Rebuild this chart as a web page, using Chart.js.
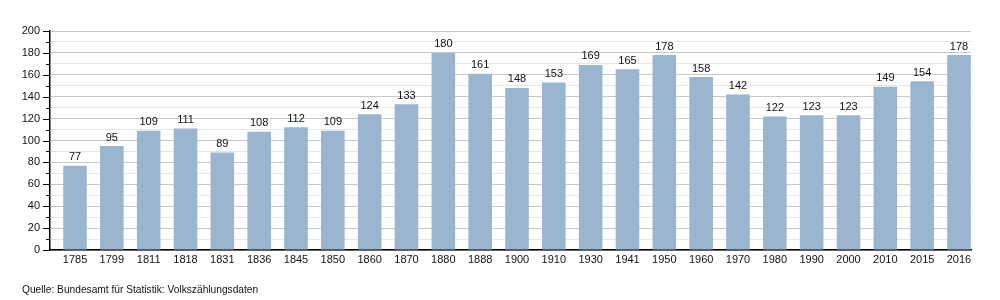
<!DOCTYPE html>
<html>
<head>
<meta charset="utf-8">
<script src="https://cdn.jsdelivr.net/npm/chart.js@4/dist/chart.umd.min.js"></script>
<style>
html,body{margin:0;padding:0;background:#fff;}
#wrap{width:1000px;height:300px;position:relative;}
</style>
</head>
<body>
<div id="wrap"><canvas id="c"></canvas></div>
<script>
const years = ['1785','1799','1811','1818','1831','1836','1845','1850','1860','1870','1880','1888','1900','1910','1930','1941','1950','1960','1970','1980','1990','2000','2010','2015','2016'];
const population = [77,95,109,111,89,108,112,109,124,133,180,161,148,153,169,165,178,158,142,122,123,123,149,154,178];
const sourceText = 'Quelle: Bundesamt für Statistik: Volkszählungsdaten';

const FONT = '"Liberation Sans", Arial, sans-serif';

const points = population.map((v, i) => ({x: i, y: v}));

const labelPlugin = {
  id: 'labels',
  afterDraw(chart) {
    const ctx = chart.ctx;
    const meta = chart.getDatasetMeta(0);
    ctx.save();
    ctx.fillStyle = '#111';
    ctx.font = '11px ' + FONT;
    ctx.textAlign = 'center';
    ctx.textBaseline = 'bottom';
    meta.data.forEach((bar, i) => {
      ctx.fillText(String(population[i]), bar.x, bar.y - 3);
    });
    // y-axis tick marks (major longer, minor shorter)
    const ys = chart.scales.y;
    ctx.strokeStyle = '#000';
    ctx.lineWidth = 1;
    ys.ticks.forEach(t => {
      const py = Math.round(ys.getPixelForValue(t.value)) + 0.5;
      const len = t.value % 20 === 0 ? 7 : 4;
      ctx.beginPath();
      ctx.moveTo(ys.right - len, py);
      ctx.lineTo(ys.right, py);
      ctx.stroke();
    });
    // source
    ctx.fillStyle = '#111';
    ctx.font = '10.2px ' + FONT;
    ctx.textAlign = 'left';
    ctx.textBaseline = 'middle';
    ctx.fillText(sourceText, 22, 290);
    ctx.restore();
  }
};

new Chart(document.getElementById('c'), {
  type: 'bar',
  data: {
    datasets: [{
      data: points,
      backgroundColor: '#9bb4cf',
      borderWidth: 0,
      categoryPercentage: 1,
      barPercentage: 0.64
    }]
  },
  options: {
    responsive: true,
    maintainAspectRatio: false,
    animation: false,
    devicePixelRatio: 1,
    layout: {padding: {top: 31, right: 29, bottom: 0, left: 0}},
    plugins: {legend: {display: false}, tooltip: {enabled: false}, title: {display: false}},
    scales: {
      x: {
        type: 'linear',
        offset: false,
        min: -0.679,
        max: 24.326,
        afterFit(s) { s.height = 50; },
        afterBuildTicks(s) {
          s.ticks = years.map((y, i) => ({value: i}));
        },
        grid: {display: false, drawTicks: false},
        border: {color: '#000', width: 1.5},
        ticks: {
          autoSkip: false,
          maxRotation: 0,
          padding: 3,
          color: '#111',
          font: {size: 11, family: FONT},
          callback: (v) => Number.isInteger(v) ? years[v] : ''
        }
      },
      y: {
        min: 0,
        max: 200,
        afterFit(s) { s.width = 50; },
        grid: {
          color: (c) => (c.tick && c.tick.value % 20 === 0) ? '#c8c8c8' : '#e6e6e6',
          drawTicks: false
        },
        border: {color: '#000', width: 1.5},
        ticks: {
          stepSize: 10,
          maxTicksLimit: 30,
          autoSkip: false,
          padding: 10,
          color: '#111',
          font: {size: 11, family: FONT},
          callback: (v) => v % 20 === 0 ? String(v) : ''
        }
      }
    }
  },
  plugins: [labelPlugin]
});
</script>
</body>
</html>
